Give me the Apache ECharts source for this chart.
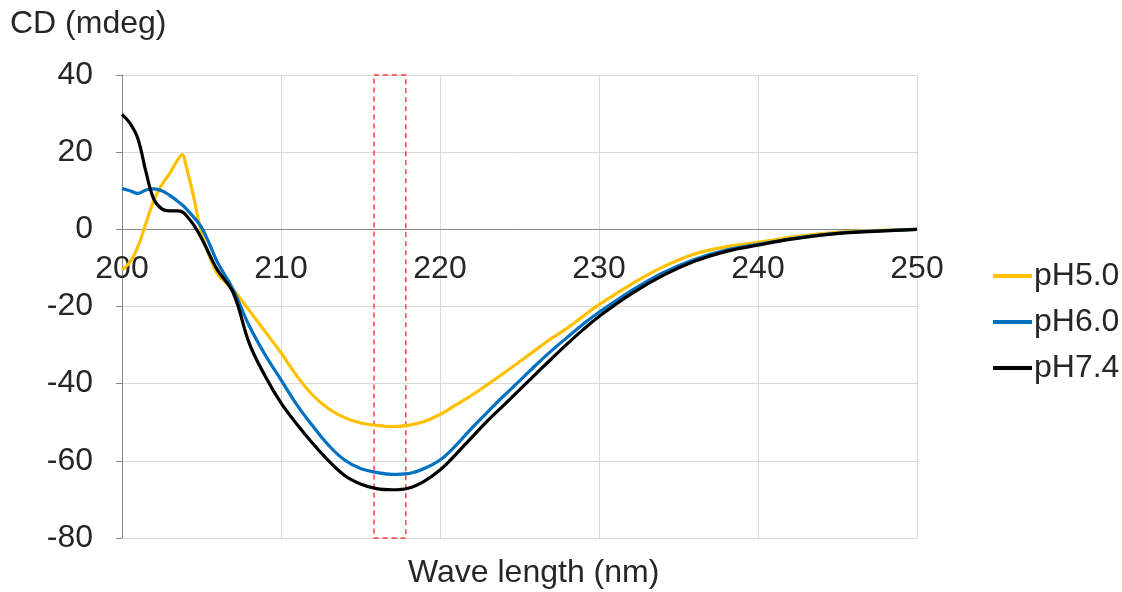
<!DOCTYPE html>
<html>
<head>
<meta charset="utf-8">
<script src="https://cdn.jsdelivr.net/npm/echarts@6/dist/echarts.min.js"></script>
<style>
  html, body { margin: 0; padding: 0; background: #fff; }
  #cd_chart { width: 1122px; height: 592px; }
</style>
</head>
<body>
<div id="cd_chart"></div>
<script>
// wavelength (nm) shared by all three curves
const waveLength = [200, 200.5, 201, 201.5, 202, 202.5, 203, 203.5, 203.8, 204, 204.5, 205, 205.5, 206,
  207, 208, 209, 210, 211, 212, 213, 214, 215, 216, 217, 218, 219, 220, 221, 222, 223, 224, 225,
  226, 227, 228, 229, 230, 232, 234, 236, 238, 240, 242, 244, 246, 248, 250];

const ph50 = [-10.5, -8.5, -4.5, 1.5, 7.5, 11.5, 14.5, 18, 19.4, 17, 8.5, -1, -7, -11.5,
  -15.7, -21, -26.5, -32, -38, -43, -46.5, -48.8, -50.2, -50.8, -51.1, -50.8, -49.8, -48, -45.5, -43, -40.2, -37.3, -34.3,
  -31.3, -28.3, -25.6, -22.5, -19.5, -14.3, -9.8, -6.4, -4.5, -3.4, -2.1, -1.1, -0.5, -0.2, 0];

const ph60 = [10.6, 10, 9.3, 10.2, 10.5, 10, 8.8, 7.3, 6.3, 5.5, 3.2, 0.5, -3.8, -8.5,
  -15.7, -25, -32.5, -39, -45.5, -51, -56, -59.8, -62, -63, -63.5, -63.3, -62, -59.8, -56, -51.5, -47.3, -43.2, -39.3,
  -35.3, -31.5, -28, -24.6, -21.5, -16, -11.3, -7.8, -5.4, -3.9, -2.5, -1.4, -0.7, -0.3, 0];

const ph74 = [29.8, 27.5, 23.5, 15, 7.8, 5.3, 4.8, 4.8, 4.5, 3.8, 1.2, -2.3, -6.5, -10.5,
  -16.5, -29.5, -38, -45, -50.5, -55.5, -60, -63.8, -66, -67.2, -67.5, -67.1, -65.3, -62.4, -58.3, -53.9, -49.6, -45.6, -41.6,
  -37.6, -33.6, -29.7, -26, -22.6, -16.8, -12, -8.3, -5.7, -4.1, -2.6, -1.5, -0.8, -0.4, 0];

const seriesNames = ['pH5.0', 'pH6.0', 'pH7.4'];
const seriesColors = ['#FFC000', '#0070C0', '#000000'];
const highlightRange = [215.85, 217.85];

const font = 'Liberation Sans, Arial, sans-serif';
const fs = 32;

function pairs(ys) {
  return waveLength.map((x, i) => [x, ys[i]]);
}

const chart = echarts.init(document.getElementById('cd_chart'), null, { renderer: 'canvas' });

const series = [ph50, ph60, ph74].map((ys, i) => ({
  name: seriesNames[i],
  type: 'line',
  data: pairs(ys),
  smooth: 0.4,
  showSymbol: false,
  lineStyle: { color: seriesColors[i], width: 3.2 },
  itemStyle: { color: seriesColors[i] },
  z: 3 + i
}));

// red dashed box around the minimum
series[2].markArea = {
  silent: true,
  itemStyle: {
    color: 'rgba(0,0,0,0)',
    borderColor: '#FF4040',
    borderWidth: 1.5,
    borderType: [5, 4]
  },
  data: [[{ xAxis: highlightRange[0], yAxis: 40 }, { xAxis: highlightRange[1], yAxis: -80 }]]
};

// plot area: 40 -> y 75, -80 -> y 538, so zero sits 309 px above the bottom
const option = {
  animation: false,
  backgroundColor: '#fff',
  grid: { left: 122, right: 205, top: 75, bottom: 54, containLabel: false },
  xAxis: {
    type: 'value',
    min: 200, max: 250, interval: 10,
    offset: -309,
    axisLine: { onZero: false, lineStyle: { color: '#868686', width: 1 } },
    axisTick: { show: false },
    axisLabel: {
      margin: 24, color: '#262626', fontSize: fs, fontFamily: font,
      showMinLabel: true, showMaxLabel: true
    },
    splitLine: { show: true, lineStyle: { color: '#d9d9d9', width: 1 } }
  },
  yAxis: {
    type: 'value',
    min: -80, max: 40, interval: 20,
    axisLine: { show: true, lineStyle: { color: '#868686', width: 1 } },
    axisTick: { show: true, length: 6, lineStyle: { color: '#868686' } },
    axisLabel: { margin: 29, color: '#262626', fontSize: fs, fontFamily: font },
    splitLine: { show: true, lineStyle: { color: '#d9d9d9', width: 1 } }
  },
  legend: {
    orient: 'vertical',
    left: 988, top: 255,
    itemWidth: 39, itemHeight: 4,
    itemGap: 14,
    icon: 'rect',
    textStyle: { fontSize: fs, color: '#262626', fontFamily: font, padding: [0, 0, 0, -3] },
    data: seriesNames
  },
  graphic: [
    {
      type: 'text', left: 10, top: 8,
      style: { text: 'CD (mdeg)', fill: '#262626', font: fs + 'px ' + font }
    },
    {
      type: 'text', left: 408, top: 557,
      style: { text: 'Wave length (nm)', fill: '#262626', font: fs + 'px ' + font }
    }
  ],
  series: series
};

chart.setOption(option);
</script>
</body>
</html>
